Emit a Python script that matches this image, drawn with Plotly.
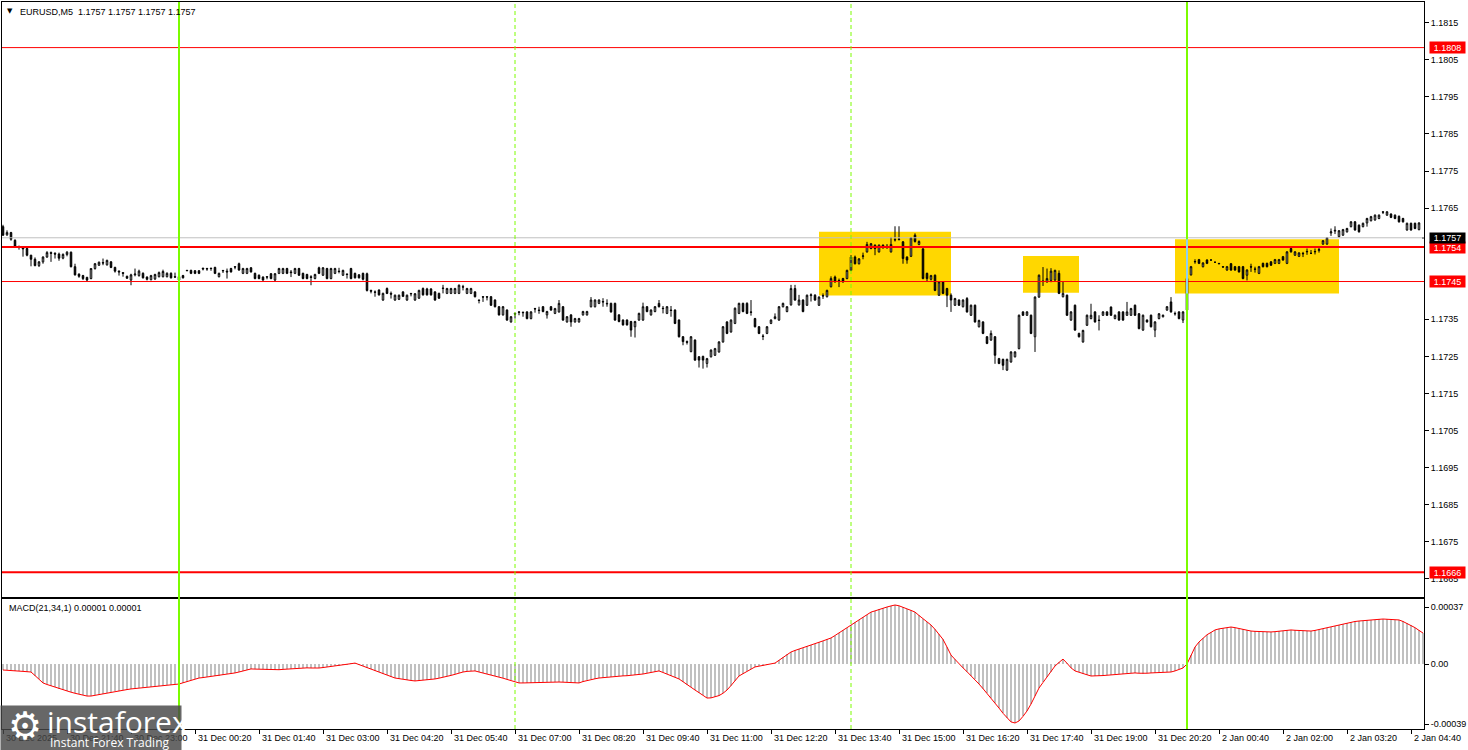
import plotly.graph_objects as go

# ---------------- DATA (prices in points of 1e-5 above BASE) ----------------
BASE = 1.17000
PT = 1e-5

opens = [
    600,578,584,563,546,544,541,523,512,495,505,518,530,528,526,515,
    525,531,492,472,468,463,460,487,496,503,497,505,490,480,476,466,
    456,470,468,474,464,457,459,465,465,465,474,465,465,468,481,482,
    481,481,488,487,488,490,465,482,480,487,492,500,474,474,489,474,
    469,464,465,473,456,474,474,487,478,474,487,474,471,465,460,489,
    469,487,460,474,480,469,472,487,474,470,474,473,428,424,429,402,
    433,420,402,404,424,402,420,402,407,433,432,432,424,420,433,420,
    420,420,420,438,420,420,424,402,411,411,411,402,384,362,375,343,
    366,370,369,370,352,379,375,384,362,384,366,370,384,343,362,343,
    343,362,362,384,384,393,398,393,393,393,362,348,348,344,330,348,
    348,384,362,371,393,380,366,375,375,348,303,290,263,294,249,250,
    231,249,253,262,289,343,316,339,366,393,393,370,352,330,305,312,
    339,352,348,384,371,389,433,389,402,388,414,415,388,414,411,438,
    464,455,460,460,482,518,500,520,532,541,550,532,550,547,532,564,
    565,559,518,520,577,552,540,474,458,469,415,451,433,415,388,402,
    384,406,361,388,330,343,303,294,303,244,242,213,235,249,271,370,
    361,361,303,410,452,451,455,456,474,411,415,348,388,312,289,334,
    352,370,348,361,370,383,352,370,370,361,361,388,365,321,348,361,
    321,352,357,375,397,366,370,348,375,470,505,511,492,510,510,504,
    501,492,483,500,492,492,492,469,492,486,474,501,501,505,501,501,
    519,501,541,523,520,528,532,528,532,536,553,553,583,588,573,577,
    586,600,613,604,600,610,616,618,622,640,631,634,631,628,622,591,
    609,609,592,570,
]
highs = [
    605,590,586,566,549,546,544,524,517,507,520,534,533,531,530,528,
    534,533,500,474,470,465,488,502,506,514,511,507,492,482,477,468,
    473,487,484,477,466,470,473,479,484,477,477,476,467,470,483,484,
    483,483,489,489,489,492,476,483,487,489,493,503,489,489,491,476,
    471,466,466,475,475,489,489,489,483,489,489,476,473,469,473,492,
    491,489,489,489,489,484,474,489,476,472,476,476,430,428,431,422,
    436,425,417,417,426,417,421,421,430,436,435,434,426,422,443,435,
    435,435,444,443,435,435,426,403,412,412,413,404,386,386,377,359,
    368,372,371,372,372,381,384,386,373,386,381,402,386,359,364,354,
    354,373,373,410,404,404,407,404,395,395,364,350,350,346,346,368,
    395,386,377,386,402,386,386,386,377,350,305,293,305,296,251,252,
    246,269,273,291,332,345,350,382,395,395,396,402,354,332,310,332,
    350,366,386,395,386,443,443,416,404,417,420,418,412,420,430,466,
    468,460,462,484,523,522,515,530,559,556,552,552,552,553,572,601,
    601,561,520,572,582,563,545,476,470,471,453,453,435,420,408,404,
    404,410,390,390,349,345,305,320,305,246,244,244,264,264,363,372,
    372,363,412,471,491,487,488,484,482,451,417,372,390,314,322,363,
    392,372,361,372,372,385,363,372,372,397,381,390,367,363,350,363,
    345,367,363,386,410,371,372,372,462,494,512,513,504,512,511,505,
    502,493,494,502,494,494,494,485,500,492,494,503,503,507,513,513,
    521,534,543,534,531,532,541,537,541,545,564,572,595,601,591,594,
    597,615,615,606,611,624,629,633,633,641,642,636,633,630,624,611,
    611,611,612,570,
]
lows = [
    575,575,562,543,538,519,520,493,493,491,500,516,505,514,508,512,
    520,490,468,462,456,452,458,484,494,496,495,488,476,468,465,459,
    442,466,465,460,455,455,456,463,463,463,460,462,452,460,480,472,
    472,472,482,481,481,472,463,475,460,476,485,481,472,472,476,458,
    458,454,458,458,452,472,472,472,464,472,467,458,458,442,458,472,
    467,458,458,472,474,467,460,458,460,460,455,425,420,411,414,400,
    418,406,400,402,410,400,412,400,405,414,414,414,400,405,420,418,
    418,418,418,428,418,418,409,393,397,401,386,382,360,360,346,341,
    352,361,357,350,350,368,365,369,352,373,364,368,346,341,330,341,
    341,360,360,382,382,391,384,384,368,346,342,333,333,303,301,346,
    346,369,360,369,382,366,364,357,337,301,280,282,261,238,220,217,
    220,247,251,260,287,310,314,337,364,369,364,360,328,310,294,310,
    337,350,346,382,369,387,400,387,369,386,398,400,386,405,409,436,
    449,437,449,458,480,498,498,512,530,539,523,530,540,540,530,560,
    563,500,500,518,557,550,458,452,455,426,413,418,383,370,386,386,
    382,368,359,341,328,310,283,292,230,229,213,211,233,247,269,359,
    359,310,262,408,440,449,450,454,418,409,359,346,319,301,287,332,
    350,341,320,359,359,359,350,346,346,359,359,359,323,319,341,328,
    302,350,355,373,368,360,350,340,348,468,500,499,490,499,509,503,
    499,490,481,481,481,476,458,455,478,476,472,490,490,494,499,499,
    508,499,530,521,518,518,524,526,525,530,551,551,575,580,571,575,
    584,598,589,584,598,600,614,616,620,634,629,623,620,611,611,589,
    589,593,590,570,
]
closes = [
    577,584,566,546,544,540,523,512,495,505,518,530,528,526,515,525,
    531,492,470,466,460,456,487,500,504,502,509,490,480,478,474,461,
    470,472,480,462,458,468,471,476,479,474,462,464,456,462,482,474,
    474,474,486,486,487,474,474,481,478,478,491,483,487,487,478,460,
    460,456,464,460,473,487,487,474,476,487,469,460,460,463,471,474,
    489,460,487,487,479,482,471,460,462,462,458,428,426,423,416,420,
    420,418,415,415,412,415,419,419,428,416,416,416,402,407,434,433,
    433,433,442,437,433,433,411,401,410,410,388,384,362,384,348,357,
    364,369,368,352,370,378,374,371,371,375,379,393,348,357,343,352,
    352,371,371,402,402,402,397,392,370,348,344,335,335,321,344,366,
    384,371,375,384,384,379,384,374,339,303,290,288,303,240,240,240,
    244,267,271,289,330,312,348,380,393,371,366,369,330,312,304,330,
    348,357,384,393,384,433,402,402,371,415,416,402,410,413,428,460,
    451,454,451,482,518,500,513,521,552,554,541,550,545,546,552,565,
    566,514,510,570,560,560,460,460,468,428,451,420,415,402,406,388,
    402,370,388,343,347,312,285,312,253,231,226,242,262,262,361,361,
    370,312,410,469,453,460,480,482,420,420,361,370,321,303,320,361,
    361,343,347,370,361,361,361,348,348,370,379,361,325,361,343,330,
    343,365,361,384,370,365,352,370,460,492,506,501,502,501,510,504,
    500,491,492,483,483,478,460,483,491,485,492,492,492,496,511,511,
    510,532,532,532,529,527,533,528,533,538,562,570,586,590,589,592,
    595,613,591,586,609,622,627,631,631,639,640,625,622,613,613,609,
    591,595,610,570,
]
# MACD(21,34,1) main value per bar, in units of 1e-6
macd_e6 = [
    -39,-40,-42,-44,-46,-48,-50,-52,-75,-100,-123,-133,-142,-151,-160,-169,
    -176,-183,-190,-197,-203,-208,-208,-203,-198,-193,-188,-182,-178,-174,-170,-166,
    -162,-159,-156,-153,-150,-147,-145,-143,-140,-138,-136,-133,-130,-122,-114,-106,
    -98,-91,-88,-84,-81,-78,-75,-72,-68,-65,-58,-52,-45,-38,-32,-33,
    -34,-35,-36,-38,-39,-37,-35,-33,-30,-28,-26,-26,-25,-26,-27,-26,
    -23,-20,-16,-13,-9,-6,-2,2,6,-4,-14,-25,-35,-45,-55,-64,
    -73,-82,-91,-95,-100,-104,-107,-110,-108,-105,-102,-100,-97,-92,-87,-81,
    -74,-67,-58,-52,-48,-46,-45,-52,-58,-65,-71,-78,-85,-92,-100,-107,
    -112,-123,-123,-122,-122,-121,-120,-120,-119,-118,-118,-117,-118,-119,-120,-121,
    -123,-114,-107,-100,-96,-91,-88,-85,-82,-80,-78,-77,-76,-74,-72,-71,
    -65,-60,-55,-50,-45,-55,-65,-75,-85,-97,-115,-135,-150,-169,-186,-203,
    -221,-220,-214,-205,-190,-169,-140,-110,-78,-63,-48,-34,-19,-14,-10,-5,
    0,6,24,44,62,78,88,96,105,114,123,132,141,150,160,169,
    185,202,219,236,253,270,287,304,320,337,345,355,362,370,377,383,
    378,370,358,348,337,315,295,274,253,225,195,160,110,58,30,0,
    -25,-50,-75,-100,-130,-160,-190,-220,-255,-286,-320,-350,-376,-383,-370,-340,
    -305,-260,-210,-156,-120,-85,-50,-13,10,32,5,-25,-45,-55,-62,-70,
    -78,-78,-76,-75,-73,-71,-68,-66,-63,-60,-58,-58,-60,-62,-60,-58,
    -57,-56,-55,-54,-52,-45,-35,-26,0,60,110,143,170,190,205,221,
    228,233,237,240,236,230,225,220,214,212,210,209,208,208,210,213,
    216,219,221,219,217,216,214,214,218,224,230,235,240,246,252,258,
    265,273,276,279,282,284,286,288,290,292,290,288,287,286,276,263,
    253,236,218,201,
]

time_labels = ["30 Dec 2025", "30 Dec 21:40", "30 Dec 23:00", "31 Dec 00:20",
               "31 Dec 01:40", "31 Dec 03:00", "31 Dec 04:20", "31 Dec 05:40",
               "31 Dec 07:00", "31 Dec 08:20", "31 Dec 09:40", "31 Dec 11:00",
               "31 Dec 12:20", "31 Dec 13:40", "31 Dec 15:00", "31 Dec 16:20",
               "31 Dec 17:40", "31 Dec 19:00", "31 Dec 20:20", "2 Jan 00:40",
               "2 Jan 02:00", "2 Jan 03:20", "2 Jan 04:40"]
LABEL_EVERY = 16  # bars between time labels

price_ticks = [1.1815, 1.1805, 1.1795, 1.1785, 1.1775, 1.1765,
               1.1735, 1.1725, 1.1715, 1.1705, 1.1695, 1.1685, 1.1675, 1.1665]
macd_ticks = [0.00037, 0.0, -0.00039]
macd_tick_text = ["0.00037", "0.00", "-0.00039"]

# horizontal levels: (label, price, width)
levels = [("1.1808", 1.18083, 1), ("1.1754", 1.17545, 2),
          ("1.1745", 1.17452, 1), ("1.1666", 1.16668, 2)]
bid_price = 1.17570
bid_label = "1.1757"

# vertical markers (bar index)
day_lines = [44, 296]
dash_lines = [128, 212]

# highlighted zones: (bar from, bar to, price top, price bottom)
zones = [(204, 237, 1.17586, 1.17414),
         (255, 269, 1.17521, 1.17422),
         (293, 334, 1.17566, 1.17420)]

# ---------------- BUILD ----------------
n = min(len(opens), len(highs), len(lows), len(closes), len(macd_e6))
idx = list(range(n))
o = [BASE + v * PT for v in opens[:n]]
h = [BASE + v * PT for v in highs[:n]]
l = [BASE + v * PT for v in lows[:n]]
c = [BASE + v * PT for v in closes[:n]]
m = [v * 1e-6 for v in macd_e6[:n]]

W, H = 1468, 750
ML, MR, MT, MB = 2, 44, 2, 21
plot_h = H - MT - MB
main_dom = [(H - MB - 597) / plot_h, 1.0]
macd_dom = [0.0, (H - MB - 599) / plot_h]
x_range = [-0.25, 355.25]

FONT = "Tahoma, 'Liberation Sans', Arial, sans-serif"

fig = go.Figure()
fig.add_trace(go.Candlestick(
    x=idx, open=o, high=h, low=l, close=c,
    increasing=dict(line=dict(color="black", width=1), fillcolor="white"),
    decreasing=dict(line=dict(color="black", width=1), fillcolor="black"),
    whiskerwidth=0, xaxis="x", yaxis="y", showlegend=False, hoverinfo="skip"))
fig.add_trace(go.Bar(
    x=idx, y=m, width=0.5, marker=dict(color="#c0c0c0", line=dict(width=0)),
    xaxis="x2", yaxis="y2", showlegend=False, hoverinfo="skip"))
fig.add_trace(go.Scatter(
    x=idx, y=m, mode="lines", line=dict(color="#ff0000", width=1),
    xaxis="x2", yaxis="y2", showlegend=False, hoverinfo="skip"))

shapes = []
for (x0, x1, ytop, ybot) in zones:
    shapes.append(dict(type="rect", xref="x", yref="y", x0=x0, x1=x1, y0=ybot, y1=ytop,
                       fillcolor="#FFD700", line=dict(width=0), layer="below"))
shapes.append(dict(type="line", xref="paper", yref="y", x0=0, x1=1, y0=bid_price, y1=bid_price,
                   line=dict(color="#c0c0c0", width=1)))
for (_, p, w) in levels:
    shapes.append(dict(type="line", xref="paper", yref="y", x0=0, x1=1, y0=p, y1=p,
                       line=dict(color="#ff0000", width=w)))
for b in dash_lines:
    shapes.append(dict(type="line", xref="x", yref="paper", x0=b, x1=b, y0=0, y1=1,
                       line=dict(color="#7CFC00", width=1, dash="4px,3px")))
for b in day_lines:
    shapes.append(dict(type="line", xref="x", yref="paper", x0=b, x1=b, y0=0, y1=1,
                       line=dict(color="#7CFC00", width=2)))
# colour of the day line where it crosses the last zone
zb = zones[2]
shapes.append(dict(type="line", xref="x", yref="y", x0=day_lines[1], x1=day_lines[1],
                   y0=zb[3], y1=zb[2], line=dict(color="#8fd0f0", width=2)))

ann = []
# title
ann.append(dict(xref="paper", yref="paper", x=0, y=1, xshift=8, yshift=-9, xanchor="center",
                yanchor="middle", text="▼", showarrow=False, font=dict(size=7, color="black", family="DejaVu Sans")))
ann.append(dict(xref="paper", yref="paper", x=0, y=1, xshift=16, yshift=-10, xanchor="left",
                yanchor="middle", text="EURUSD,M5  1.1757 1.1757 1.1757 1.1757", showarrow=False,
                font=dict(size=9, color="black", family=FONT)))
ann.append(dict(xref="paper", yref="paper", x=0, y=macd_dom[1], xshift=5, yshift=-9, xanchor="left",
                yanchor="middle", text="MACD(21,34,1) 0.00001 0.00001", showarrow=False,
                font=dict(size=9, color="black", family=FONT)))
# price labels on right scale
for (lab, p, _) in levels:
    ann.append(dict(xref="paper", yref="y", x=1, y=p, xshift=5, xanchor="left", yanchor="middle",
                    text=lab, showarrow=False, bgcolor="#ff0000", width=35, height=11, borderpad=0,
                    font=dict(size=9, color="white", family=FONT)))
ann.append(dict(xref="paper", yref="y", x=1, y=bid_price, xshift=5, xanchor="left", yanchor="middle",
                text=bid_label, showarrow=False, bgcolor="#000000", width=35, height=10, borderpad=0,
                font=dict(size=9, color="white", family=FONT)))
# time labels
for k, t in enumerate(time_labels):
    ann.append(dict(xref="x2", yref="paper", x=k * LABEL_EVERY, y=0, xshift=1, yshift=-2,
                    xanchor="left", yanchor="top", text=t, showarrow=False,
                    font=dict(size=9, color="black", family=FONT)))
# watermark
ann.append(dict(xref="paper", yref="paper", x=0, y=0, xshift=-2, yshift=24, xanchor="left",
                yanchor="top", text=" ", showarrow=False, width=180, height=45,
                bgcolor="rgba(70,70,70,0.82)", borderpad=0))
ann.append(dict(xref="paper", yref="paper", x=0, y=0, xshift=23, yshift=3, xanchor="center",
                yanchor="middle", text="⚙", showarrow=False,
                font=dict(size=38, color="white", family="DejaVu Sans")))
ann.append(dict(xref="paper", yref="paper", x=0, y=0, xshift=43, yshift=8, xanchor="left",
                yanchor="middle", text="instaforex", showarrow=False,
                font=dict(size=30, color="white", family="Open Sans")))
ann.append(dict(xref="paper", yref="paper", x=0, y=0, xshift=46, yshift=-13, xanchor="left",
                yanchor="middle", text="Instant Forex Trading", showarrow=False,
                font=dict(size=12, color="white", family="Open Sans")))

axis_common = dict(showline=True, mirror=True, linecolor="black", linewidth=1,
                   showgrid=False, zeroline=False)

fig.update_layout(
    width=W, height=H, margin=dict(l=ML, r=MR, t=MT, b=MB),
    paper_bgcolor="white", plot_bgcolor="white", showlegend=False,
    boxgap=0.45, bargap=0,
    font=dict(family=FONT, size=9, color="black"),
    xaxis=dict(domain=[0, 1], anchor="y", range=x_range, showticklabels=False, ticks="",
               rangeslider=dict(visible=False), **axis_common),
    xaxis2=dict(domain=[0, 1], anchor="y2", range=x_range, showticklabels=False,
                tickvals=[k * LABEL_EVERY for k in range(len(time_labels))],
                ticks="outside", ticklen=4, tickcolor="black", **axis_common),
    yaxis=dict(domain=main_dom, anchor="x", side="right", range=[1.16601, 1.18206],
               tickvals=price_ticks, ticktext=[f"{p:.4f}" for p in price_ticks],
               ticks="outside", ticklen=4, tickcolor="black",
               tickfont=dict(size=9, color="black", family=FONT), **axis_common),
    yaxis2=dict(domain=macd_dom, anchor="x2", side="right", range=[-0.000422, 0.000422],
                tickvals=macd_ticks, ticktext=macd_tick_text,
                ticks="outside", ticklen=4, tickcolor="black",
                tickfont=dict(size=9, color="black", family=FONT), **axis_common),
    shapes=shapes, annotations=ann,
)

fig.write_html("out.html", config={"displayModeBar": False},
               post_script="document.body.style.margin='0px';document.body.style.overflow='hidden';")
